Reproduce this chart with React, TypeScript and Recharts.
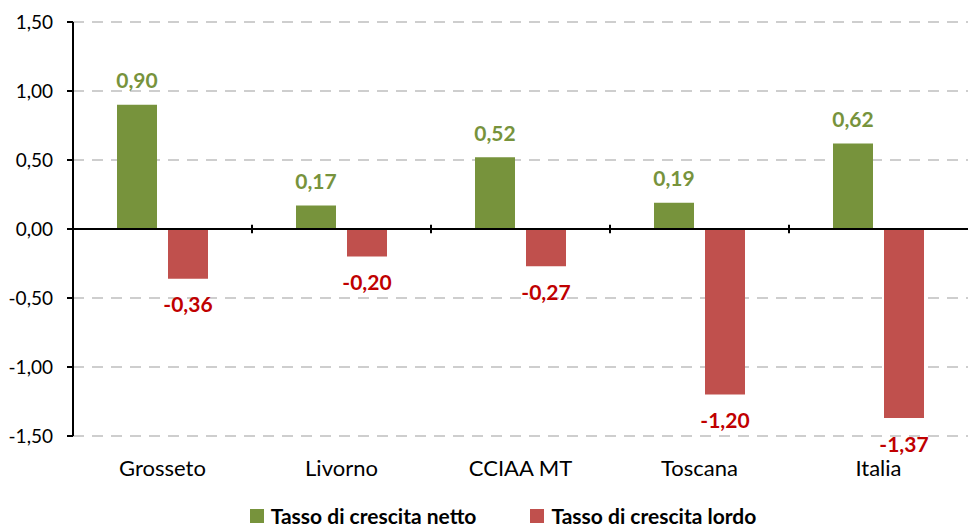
import {
  BarChart,
  Bar,
  XAxis,
  YAxis,
  CartesianGrid,
  ReferenceLine,
  Legend,
  LabelList,
} from "recharts";

const categories = ["Grosseto", "Livorno", "CCIAA MT", "Toscana", "Italia"];
const netto = [0.9, 0.17, 0.52, 0.19, 0.62];
const lordo = [-0.36, -0.2, -0.27, -1.2, -1.37];
const yTicks = [-1.5, -1, -0.5, 0, 0.5, 1, 1.5];

const GREEN = "#77933C";
const RED = "#C0504D";
const RED_LABEL = "#C00000";
const FONT = "Lato, 'Open Sans', sans-serif";

const data = categories.map((name, i) => ({ name, netto: netto[i], lordo: lordo[i] }));

const fmt = (v: number) => v.toFixed(2).replace(".", ",");

function makeLabel(color: string) {
  return (props: any) => {
    const { x, y, width, height, value } = props;
    const top = Math.min(y, y + height);
    const bottom = Math.max(y, y + height);
    const ty = value >= 0 ? top - 25 : bottom + 25;
    return (
      <text
        x={x + width / 2}
        y={ty}
        textAnchor="middle"
        dominantBaseline="central"
        fill={color}
        fontFamily={FONT}
        fontWeight={700}
        fontSize={21}
      >
        {fmt(value)}
      </text>
    );
  };
}

function LegendBox() {
  const items = [
    { label: "Tasso di crescita netto", color: GREEN },
    { label: "Tasso di crescita lordo", color: RED },
  ];
  return (
    <div
      style={{
        height: 32,
        display: "flex",
        justifyContent: "center",
        alignItems: "center",
        gap: 54,
        fontFamily: FONT,
        fontWeight: 700,
        fontSize: 21,
        lineHeight: "24px",
        color: "#000",
        paddingTop: 6,
        paddingLeft: 38,
        boxSizing: "border-box",
      }}
    >
      {items.map((it) => (
        <span key={it.label} style={{ display: "flex", alignItems: "center" }}>
          <span style={{ width: 14, height: 14, background: it.color, marginRight: 7, display: "inline-block" }} />
          {it.label}
        </span>
      ))}
    </div>
  );
}

export default function App() {
  return (
    <div style={{ position: "fixed", left: 0, top: 0, background: "#fff" }}>
      <BarChart
        width={968}
        height={529}
        data={data}
        margin={{ top: 22, right: 0, bottom: 0, left: 0 }}
        barSize={40}
        barGap={11}
      >
        <CartesianGrid vertical={false} stroke="#BFBFBF" strokeWidth={1.5} strokeDasharray="11 8" />
        <XAxis
          dataKey="name"
          axisLine={false}
          tickLine={false}
          tickMargin={18}
          height={61}
          interval={0}
          tick={{ fill: "#000", fontSize: 22, fontFamily: FONT }}
        />
        <YAxis
          domain={[-1.5, 1.5]}
          ticks={yTicks}
          width={73}
          interval={0}
          tickFormatter={fmt}
          axisLine={{ stroke: "#000", strokeWidth: 2 }}
          tickLine={{ stroke: "#000", strokeWidth: 2 }}
          tickSize={6}
          tickMargin={14}
          tick={{ fill: "#000", fontSize: 19, fontFamily: FONT }}
        />
        <Legend verticalAlign="bottom" content={() => <LegendBox />} />
        <Bar dataKey="netto" fill={GREEN} isAnimationActive={false}>
          <LabelList dataKey="netto" content={makeLabel(GREEN)} />
        </Bar>
        <Bar dataKey="lordo" fill={RED} isAnimationActive={false}>
          <LabelList dataKey="lordo" content={makeLabel(RED_LABEL)} />
        </Bar>
        <ReferenceLine y={0} stroke="#000" strokeWidth={2} />
        {categories.slice(0, -1).map((c) => (
          <ReferenceLine
            key={c}
            position="end"
            segment={[
              { x: c, y: -0.03 },
              { x: c, y: 0.03 },
            ]}
            stroke="#000"
            strokeWidth={2}
          />
        ))}
      </BarChart>
    </div>
  );
}
